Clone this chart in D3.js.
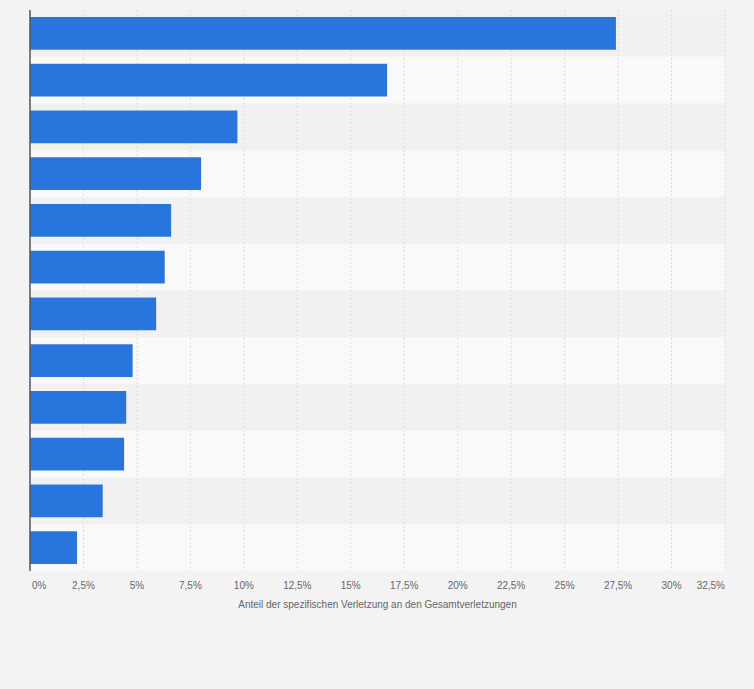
<!DOCTYPE html>
<html><head><meta charset="utf-8">
<script src="https://cdnjs.cloudflare.com/ajax/libs/d3/7.8.5/d3.min.js"></script>
<style>body{margin:0;background:#f3f3f3;font-family:"Liberation Sans",Arial,sans-serif}</style>
</head><body><svg id="c" width="754" height="689"></svg>
<script>
// values, top to bottom
const categories = ['c1','c2','c3','c4','c5','c6','c7','c8','c9','c10','c11','c12'];
const shares = [27.4, 16.7, 9.7, 8.0, 6.6, 6.3, 5.9, 4.8, 4.5, 4.4, 3.4, 2.2];
const ticks = [0,2.5,5,7.5,10,12.5,15,17.5,20,22.5,25,27.5,30,32.5];

const svg = d3.select('#c');
const m = {left: 30, right: 29, top: 10, bottom: 118};
const W = 754, H = 689;
const x = d3.scaleLinear().domain([0, 32.5]).range([m.left, W - m.right]);
const y = d3.scaleBand().domain(categories).range([m.top, H - m.bottom]).paddingInner(0.3).paddingOuter(0.15);
const band = d3.scaleBand().domain(categories).range([m.top, H - m.bottom]);

svg.selectAll('rect.band').data(categories).join('rect')
  .attr('x', m.left).attr('width', x(32.5) - m.left)
  .attr('y', d => band(d)).attr('height', band.bandwidth())
  .attr('fill', (d, i) => i % 2 ? '#f9f9f9' : '#f1f1f1');

svg.selectAll('line.grid').data(ticks.slice(1)).join('line')
  .attr('x1', d => x(d)).attr('x2', d => x(d))
  .attr('y1', m.top).attr('y2', H - m.bottom)
  .attr('stroke', '#dcdcdc').attr('stroke-dasharray', '2,2');

svg.selectAll('rect.bar').data(shares).join('rect')
  .attr('x', x(0)).attr('width', d => x(d) - x(0))
  .attr('y', (d, i) => y(categories[i])).attr('height', y.bandwidth())
  .attr('fill', '#2876dd');

svg.append('line').attr('x1', m.left).attr('x2', m.left)
  .attr('y1', m.top).attr('y2', H - m.bottom).attr('stroke', '#555').attr('stroke-width', 1.5);

svg.selectAll('text.tick').data(ticks).join('text')
  .attr('x', (d, i) => i === 0 ? x(d) + 2 : i === ticks.length - 1 ? x(d) : x(d))
  .attr('y', 589)
  .attr('text-anchor', (d, i) => i === 0 ? 'start' : i === ticks.length - 1 ? 'end' : 'middle')
  .attr('font-size', 10).attr('fill', '#666')
  .text(d => String(d).replace('.', ',') + '%');

svg.append('text').attr('x', (x(0) + x(32.5)) / 2).attr('y', 608)
  .attr('text-anchor', 'middle').attr('font-size', 10).attr('fill', '#666')
  .text('Anteil der spezifischen Verletzung an den Gesamtverletzungen');
</script></body></html>
